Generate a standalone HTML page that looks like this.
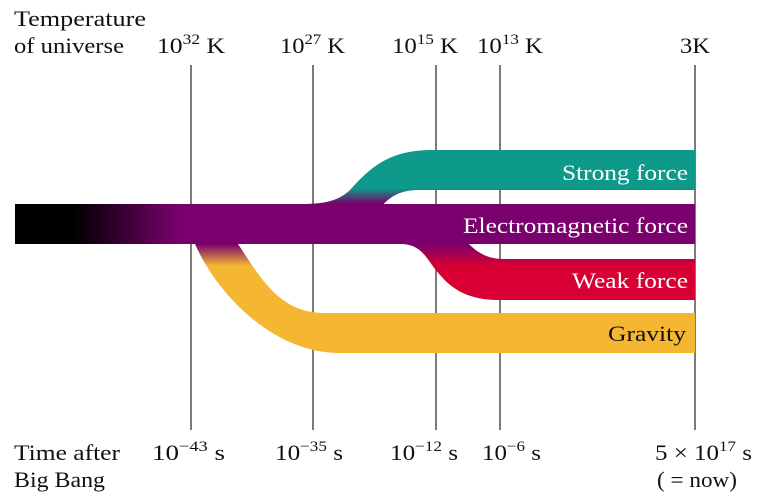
<!DOCTYPE html>
<html><head><meta charset="utf-8"><style>
body{margin:0;background:#fff;}
svg{display:block;}
text{font-family:"Liberation Serif",serif;}
</style></head><body>
<svg width="769" height="500" viewBox="0 0 769 500" xmlns="http://www.w3.org/2000/svg">
<defs>
<linearGradient id="pl" x1="15" y1="0" x2="180" y2="0" gradientUnits="userSpaceOnUse">
<stop offset="0" stop-color="#000"/><stop offset="0.35" stop-color="#000"/><stop offset="1" stop-color="#7a006e"/></linearGradient>
<linearGradient id="gv" x1="0" y1="244" x2="0" y2="266" gradientUnits="userSpaceOnUse">
<stop offset="0" stop-color="#7a006e"/><stop offset="1" stop-color="#f5b731"/></linearGradient>
<linearGradient id="st" x1="0" y1="204" x2="0" y2="188" gradientUnits="userSpaceOnUse">
<stop offset="0" stop-color="#7a006e"/><stop offset="1" stop-color="#0d9a8a"/></linearGradient>
<linearGradient id="wk" x1="0" y1="244" x2="0" y2="266" gradientUnits="userSpaceOnUse">
<stop offset="0" stop-color="#7a006e"/><stop offset="1" stop-color="#d80032"/></linearGradient>
</defs>
<g stroke="#333" stroke-width="1.3">
<line x1="191" y1="65" x2="191" y2="430"/>
<line x1="313" y1="65" x2="313" y2="430"/>
<line x1="436" y1="65" x2="436" y2="430"/>
<line x1="500" y1="65" x2="500" y2="430"/>
<line x1="695" y1="65" x2="695" y2="430"/>
</g>
<path d="M185 240 L238 240 L238 244 C262 280 280 313 325 313 L695 313 L695 353 L340 353 C270 353 215 290 195 244 Z" fill="url(#gv)"/>
<path d="M300 210 L300 204 C325 204 338 201 350 190 C372 165 392 150 432 150 L695 150 L695 190 L420 190 C400 190 390 196 378 210 Z" fill="url(#st)"/>
<path d="M400 240 L465 240 C478 254 488 259 505 259 L695 259 L695 300 L500 300 C462 300 447 285 432 265 C422 250 415 244 400 244 Z" fill="url(#wk)"/>
<rect x="15" y="204" width="680" height="40" fill="url(#pl)"/>
<g fill="#fff" font-size="22">
<text x="562" y="180" textLength="126" lengthAdjust="spacingAndGlyphs">Strong force</text>
<text x="463" y="233" textLength="225" lengthAdjust="spacingAndGlyphs">Electromagnetic force</text>
<text x="572" y="288" textLength="116" lengthAdjust="spacingAndGlyphs">Weak force</text>
</g>
<text x="608" y="341" font-size="22" fill="#111" textLength="78" lengthAdjust="spacingAndGlyphs">Gravity</text>
<g font-size="22" fill="#111">
<text x="14" y="26" textLength="132" lengthAdjust="spacingAndGlyphs">Temperature</text>
<text x="14" y="53" textLength="110" lengthAdjust="spacingAndGlyphs">of universe</text>
<text x="157" y="53" textLength="68" lengthAdjust="spacingAndGlyphs">10<tspan font-size="15" dy="-9">32</tspan><tspan dy="9"> K</tspan></text>
<text x="280" y="53" textLength="65" lengthAdjust="spacingAndGlyphs">10<tspan font-size="15" dy="-9">27</tspan><tspan dy="9"> K</tspan></text>
<text x="392" y="53" textLength="66" lengthAdjust="spacingAndGlyphs">10<tspan font-size="15" dy="-9">15</tspan><tspan dy="9"> K</tspan></text>
<text x="477" y="53" textLength="66" lengthAdjust="spacingAndGlyphs">10<tspan font-size="15" dy="-9">13</tspan><tspan dy="9"> K</tspan></text>
<text x="680" y="53" textLength="30" lengthAdjust="spacingAndGlyphs">3K</text>
<text x="14" y="460" textLength="106" lengthAdjust="spacingAndGlyphs">Time after</text>
<text x="14" y="487" textLength="91" lengthAdjust="spacingAndGlyphs">Big Bang</text>
<text x="152" y="460" textLength="73" lengthAdjust="spacingAndGlyphs">10<tspan font-size="15" dy="-9">−43</tspan><tspan dy="9"> s</tspan></text>
<text x="275" y="460" textLength="68" lengthAdjust="spacingAndGlyphs">10<tspan font-size="15" dy="-9">−35</tspan><tspan dy="9"> s</tspan></text>
<text x="390" y="460" textLength="68" lengthAdjust="spacingAndGlyphs">10<tspan font-size="15" dy="-9">−12</tspan><tspan dy="9"> s</tspan></text>
<text x="482" y="460" textLength="59" lengthAdjust="spacingAndGlyphs">10<tspan font-size="15" dy="-9">−6</tspan><tspan dy="9"> s</tspan></text>
<text x="655" y="460" textLength="97" lengthAdjust="spacingAndGlyphs">5 × 10<tspan font-size="15" dy="-9">17</tspan><tspan dy="9"> s</tspan></text>
<text x="657" y="487" textLength="80" lengthAdjust="spacingAndGlyphs">( = now)</text>
</g>
</svg>
</body></html>
